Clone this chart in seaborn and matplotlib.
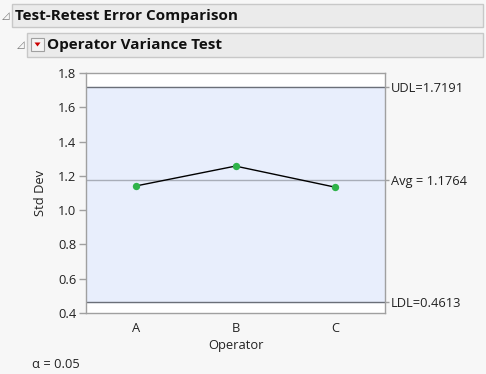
import matplotlib
matplotlib.use("Agg")
import matplotlib.pyplot as plt
from matplotlib.patches import Rectangle, Polygon
import pandas as pd
import seaborn as sns

operators = ["A", "B", "C"]
std_dev = [1.141, 1.257, 1.134]
avg = 1.1764
udl = 1.7191
ldl = 0.4613
alpha_text = "α = 0.05"

W, H = 486, 374
sns.set_style("white")
plt.rcParams["font.family"] = ["Open Sans", "DejaVu Sans"]

fig = plt.figure(figsize=(W / 100, H / 100), dpi=100)
fig.patch.set_facecolor("#f7f7f7")


def px_rect(x0, y0, x1, y1, **kw):
    fig.add_artist(Rectangle((x0 / W, 1 - y1 / H), (x1 - x0) / W, (y1 - y0) / H,
                             transform=fig.transFigure, **kw))


def px_text(x, y, s, **kw):
    fig.text(x / W, 1 - y / H, s, **kw)


# outline headers
px_rect(12, 4, 483, 27, facecolor="#ebebeb", edgecolor="#c8c8c8", lw=1)
px_text(15, 16, "Test-Retest Error Comparison", fontsize=11, fontweight="bold",
        va="center", color="#111111")
px_text(2, 16, "◿", fontsize=7, va="center", color="#777777", family=["DejaVu Sans"])
px_rect(27, 33, 483, 57, facecolor="#ebebeb", edgecolor="#c8c8c8", lw=1)
px_text(17, 45, "◿", fontsize=7, va="center", color="#777777", family=["DejaVu Sans"])
px_rect(31, 38, 44, 51, facecolor="#f4f4f4", edgecolor="#a0a0a0", lw=0.8)
fig.add_artist(Polygon([(34.5 / W, 1 - 42.5 / H), (40.5 / W, 1 - 42.5 / H), (37.5 / W, 1 - 46.5 / H)],
                       closed=True, transform=fig.transFigure, color="#cc0000", lw=0))
px_text(47, 45, "Operator Variance Test", fontsize=11, fontweight="bold",
        va="center", color="#111111")

# plot area
x0, x1, y0, y1 = 86, 385, 73, 313
ax = fig.add_axes([x0 / W, 1 - y1 / H, (x1 - x0) / W, (y1 - y0) / H])
ax.set_facecolor("white")
ax.axhspan(ldl, udl, color="#e8eefc", zorder=0)
ax.axhline(udl, color="#6b6f78", lw=1)
ax.axhline(ldl, color="#6b6f78", lw=1)
ax.axhline(avg, color="#a8adb8", lw=1)

df = pd.DataFrame({"Operator": operators, "Std Dev": std_dev})
sns.lineplot(data=df, x="Operator", y="Std Dev", color="black", lw=1, ax=ax, sort=False)
sns.scatterplot(data=df, x="Operator", y="Std Dev", color="#2fb34a", s=28,
                edgecolor="#2fb34a", linewidth=0, zorder=5, ax=ax)

ax.set_xlim(-0.5, 2.5)
ax.set_ylim(0.4, 1.8)
ax.set_yticks([0.4, 0.6, 0.8, 1.0, 1.2, 1.4, 1.6, 1.8])
ax.set_yticklabels(["0.4", "0.6", "0.8", "1.0", "1.2", "1.4", "1.6", "1.8"])
for s in ax.spines.values():
    s.set_color("#a0a0a0")
    s.set_linewidth(1)
ax.tick_params(axis="y", left=True, length=5, width=1, color="#a0a0a0",
               labelsize=9.3, labelcolor="#222222", pad=2)
ax.tick_params(axis="x", bottom=False, labelsize=9.3, labelcolor="#222222", pad=3)
ax.set_xlabel("Operator", fontsize=9.3, color="#222222", labelpad=3)
ax.set_ylabel("Std Dev", fontsize=9.3, color="#222222", labelpad=8)

# right-side limit labels
ax2 = ax.twinx()
ax2.set_ylim(0.4, 1.8)
ax2.set_yticks([ldl, avg, udl])
ax2.set_yticklabels([f"LDL={ldl:.4f}", f"Avg = {avg:.4f}", f"UDL={udl:.4f}"])
ax2.tick_params(axis="y", right=True, length=3, width=1, color="#a0a0a0",
                labelsize=9.3, labelcolor="#222222", pad=1)
for s in ax2.spines.values():
    s.set_visible(False)

px_text(32, 364, alpha_text, fontsize=9.3, va="center", color="#222222")

fig.savefig("out.png", dpi=100, facecolor=fig.get_facecolor())
